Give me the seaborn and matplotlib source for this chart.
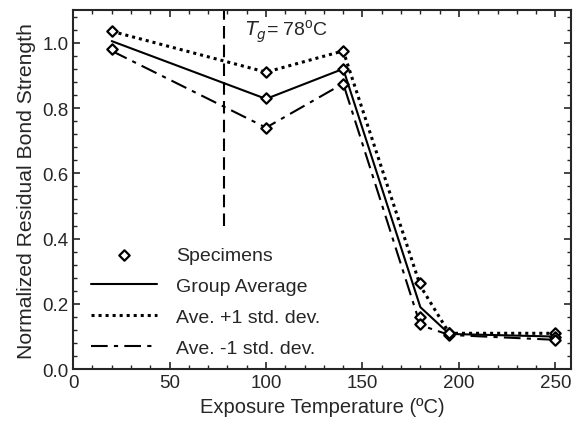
import matplotlib
matplotlib.use("Agg")
import matplotlib.pyplot as plt
from matplotlib.ticker import MultipleLocator
import seaborn as sns
import pandas as pd

sns.set_style("ticks")
plt.rcParams['font.family'] = ['Liberation Sans', 'DejaVu Sans']

# specimen results
spec_temp = [20, 20, 100, 100, 100, 140, 140, 140, 180, 180, 180, 195, 195, 195, 250, 250, 250]
spec_strength = [1.035, 0.98, 0.91, 0.83, 0.74, 0.975, 0.92, 0.875,
                 0.265, 0.16, 0.14, 0.11, 0.105, 0.11, 0.11, 0.10, 0.09]

# group statistics
temps = [20, 100, 140, 180, 195, 250]
avg = [1.005, 0.828, 0.92, 0.19, 0.108, 0.10]
avg_plus = [1.035, 0.91, 0.975, 0.255, 0.11, 0.11]
avg_minus = [0.975, 0.74, 0.875, 0.135, 0.105, 0.09]

tg = 78

specimens = pd.DataFrame({"temp": spec_temp, "strength": spec_strength})
stats = pd.DataFrame({"temp": temps, "avg": avg, "plus": avg_plus, "minus": avg_minus})

fig = plt.figure(figsize=(5.76, 4.27), dpi=100)
ax = fig.add_axes([0.127, 0.133, 0.864, 0.841])

sns.scatterplot(data=specimens, x="temp", y="strength", ax=ax, marker="D",
                s=28, facecolor="white", edgecolor="black", linewidth=1.6,
                zorder=3, label="Specimens")
sns.lineplot(data=stats, x="temp", y="avg", ax=ax, color="black", lw=1.5,
             label="Group Average")
sns.lineplot(data=stats, x="temp", y="plus", ax=ax, color="black", lw=2.2,
             linestyle=(0, (1, 1.3)), label="Ave. +1 std. dev.")
sns.lineplot(data=stats, x="temp", y="minus", ax=ax, color="black", lw=1.5,
             linestyle=(0, (8, 3, 2, 3)), label="Ave. -1 std. dev.")

ax.plot([tg, tg], [0.44, 1.1], color="black", lw=1.5, linestyle=(0, (6, 3)))
ax.text(89, 1.035, r"$T_g$= 78$^\mathregular{o}$C", fontsize=14, va="center")

ax.set_xlim(0, 258)
ax.set_ylim(0, 1.1)
ax.xaxis.set_major_locator(MultipleLocator(50))
ax.xaxis.set_minor_locator(MultipleLocator(10))
ax.yaxis.set_major_locator(MultipleLocator(0.2))
ax.yaxis.set_minor_locator(MultipleLocator(0.04))
ax.yaxis.set_major_formatter(matplotlib.ticker.FormatStrFormatter("%.1f"))
ax.tick_params(which="both", direction="in", top=True, right=True, labelsize=13.5)
ax.tick_params(which="major", length=5, width=1.2)
ax.tick_params(which="minor", length=3, width=1)
for sp in ax.spines.values():
    sp.set_linewidth(1.5)

ax.set_xlabel("Exposure Temperature (ºC)", fontsize=14.5)
ax.set_ylabel("Normalized Residual Bond Strength", fontsize=15.2)

ax.legend(loc="upper left", bbox_to_anchor=(0.0, 0.39), frameon=False,
          fontsize=14, handlelength=3.4, labelspacing=0.68, handletextpad=1.0)

fig.savefig("out.png", dpi=100)
